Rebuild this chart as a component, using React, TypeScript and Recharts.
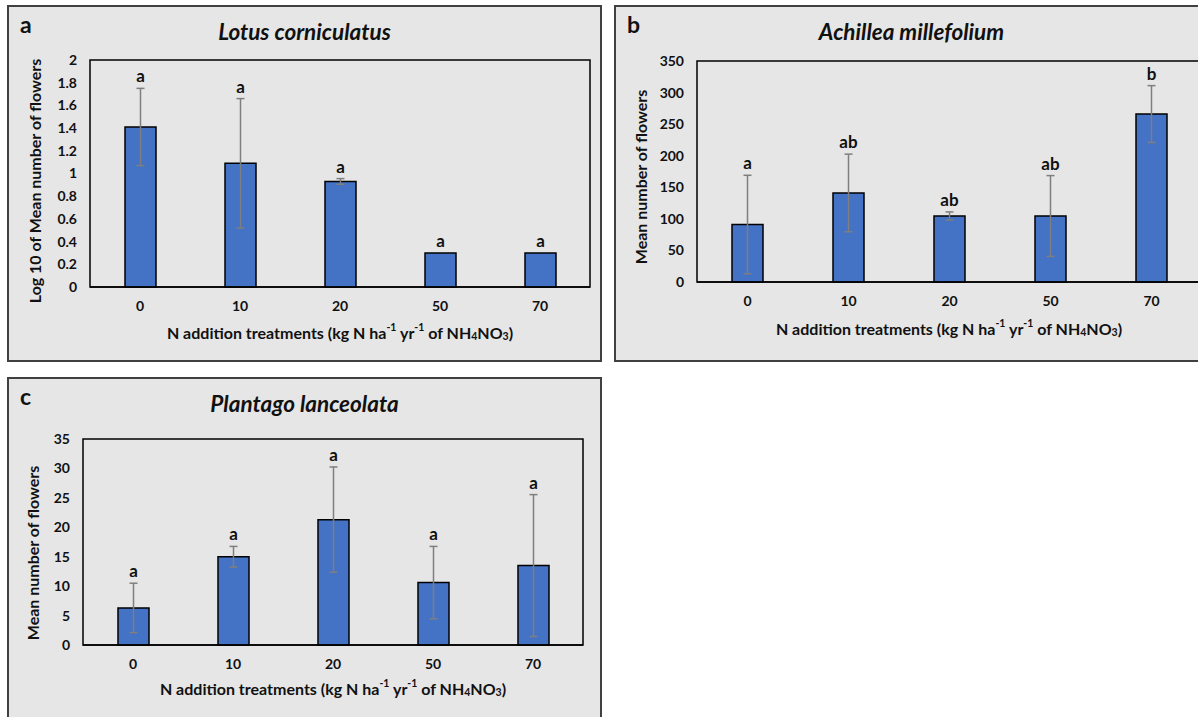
import { BarChart, Bar, XAxis, YAxis, ErrorBar, LabelList, ReferenceArea } from "recharts";

// ===== DATA =====
const doses = ["0", "10", "20", "50", "70"];

const lotusMeans = [1.41, 1.09, 0.93, 0.3, 0.3];
const lotusErrors = [0.34, 0.57, 0.025, null, null];
const lotusLetters = ["a", "a", "a", "a", "a"];
const lotusTicks = [0, 0.2, 0.4, 0.6, 0.8, 1, 1.2, 1.4, 1.6, 1.8, 2];

const achilleaMeans = [91, 141, 104.5, 104.5, 266];
const achilleaErrors = [78, 61.5, 6.5, 64, 45];
const achilleaLetters = ["a", "ab", "ab", "ab", "b"];
const achilleaTicks = [0, 50, 100, 150, 200, 250, 300, 350];

const plantagoMeans = [6.3, 15, 21.3, 10.6, 13.5];
const plantagoErrors = [4.2, 1.75, 8.95, 6.15, 12.05];
const plantagoLetters = ["a", "a", "a", "a", "a"];
const plantagoTicks = [0, 5, 10, 15, 20, 25, 30, 35];

// ===== STYLE =====
const FONT = "Lato";
const INK = "#111";
const BAR_BLUE = "#4472C4";
const ERR_GREY = "#7f7f7f";

type Box = { x: number; y: number; w: number; h: number };

interface PanelProps {
  box: Box;
  tag: string;
  species: string;
  yTitle: string;
  yTitlePos: [number, number];
  xTitlePos: [number, number];
  means: number[];
  errors: (number | null)[];
  letters: string[];
  ticks: number[];
  margin: { top: number; right: number; bottom: number; left: number };
}

// letter above each error bar (or above the bar when there is none)
const letterLabel = (means: number[], errors: (number | null)[]) => (props: any) => {
  const vb = props.viewBox ?? props;
  const { x, y, width, height } = vb;
  const i = props.index;
  const perUnit = height / means[i];
  const top = y - (errors[i] ?? 0) * perUnit;
  return (
    <text
      x={x + width / 2}
      y={top - 6}
      textAnchor="middle"
      fontFamily={FONT}
      fontWeight={700}
      fontSize={17}
      fill={INK}
    >
      {props.value}
    </text>
  );
};

// x axis title with superscripts and subscripts
const XTitle = ({ x, y }: { x: number; y: number }) => (
  <text
    x={x}
    y={y}
    textAnchor="middle"
    dominantBaseline="central"
    fontFamily={FONT}
    fontWeight={700}
    fontSize={16}
    fill={INK}
  >
    N addition treatments (kg N ha
    <tspan dy={-5} fontSize={10.5}>-1</tspan>
    <tspan dy={5}> yr</tspan>
    <tspan dy={-5} fontSize={10.5}>-1</tspan>
    <tspan dy={5}> of NH</tspan>
    <tspan dy={4} fontSize={10.5}>4</tspan>
    <tspan dy={-4}>NO</tspan>
    <tspan dy={4} fontSize={10.5}>3</tspan>
    <tspan dy={-4}>)</tspan>
  </text>
);

function Panel({
  box,
  tag,
  species,
  yTitle,
  yTitlePos,
  xTitlePos,
  means,
  errors,
  letters,
  ticks,
  margin,
}: PanelProps) {
  const data = doses.map((n, i) => ({
    n,
    mean: means[i],
    err: errors[i] ?? undefined,
    letter: letters[i],
  }));
  const yMax = ticks[ticks.length - 1];

  return (
    <>
      {/* panel background */}
      <div
        style={{
          position: "absolute",
          left: box.x,
          top: box.y,
          width: box.w,
          height: box.h,
          boxSizing: "border-box",
          border: "2px solid #404040",
          background: "#e6e6e6",
        }}
      />

      <div style={{ position: "absolute", left: box.x, top: box.y }}>
        <BarChart width={box.w} height={box.h} data={data} margin={margin}>
          <XAxis
            dataKey="n"
            axisLine={{ stroke: "#000", strokeWidth: 1.5 }}
            tickLine={false}
            tickSize={0}
            tickMargin={14}
            height={60}
            tick={{ fontSize: 14, fontWeight: 700, fill: INK, fontFamily: FONT }}
          />
          <YAxis
            domain={[0, yMax]}
            ticks={ticks}
            axisLine={false}
            tickLine={false}
            tickSize={0}
            tickMargin={13}
            width={60}
            tick={{ fontSize: 14, fontWeight: 700, fill: INK, fontFamily: FONT }}
          />
          <ReferenceArea y1={0} y2={yMax} fill="none" stroke="#000" strokeWidth={1.5} />
          <Bar
            dataKey="mean"
            fill={BAR_BLUE}
            stroke="#000"
            strokeWidth={1.5}
            barSize={31}
            isAnimationActive={false}
          >
            <ErrorBar
              dataKey="err"
              width={4}
              stroke={ERR_GREY}
              strokeWidth={1.5}
              direction="y"
              isAnimationActive={false}
            />
            <LabelList dataKey="letter" content={letterLabel(means, errors)} />
          </Bar>
        </BarChart>
      </div>

      {/* panel tag, species name and axis titles */}
      <svg
        width={box.w}
        height={box.h}
        style={{ position: "absolute", left: box.x, top: box.y, pointerEvents: "none" }}
      >
        <text x={13} y={28} fontFamily={FONT} fontWeight={700} fontSize={23} fill={INK}>
          {tag}
        </text>
        <text
          x={box.w / 2}
          y={35}
          textAnchor="middle"
          fontFamily={FONT}
          fontWeight={700}
          fontStyle="italic"
          fontSize={22.5}
          fill={INK}
        >
          {species}
        </text>
        <text
          x={yTitlePos[0]}
          y={yTitlePos[1]}
          transform={`rotate(-90 ${yTitlePos[0]} ${yTitlePos[1]})`}
          textAnchor="middle"
          dominantBaseline="central"
          fontFamily={FONT}
          fontWeight={700}
          fontSize={16}
          fill={INK}
        >
          {yTitle}
        </text>
        <XTitle x={xTitlePos[0]} y={xTitlePos[1]} />
      </svg>
    </>
  );
}

export default function App() {
  return (
    <div
      style={{
        position: "fixed",
        left: 0,
        top: 0,
        width: 1198,
        height: 717,
        overflow: "hidden",
        background: "#fff",
        fontFamily: FONT,
      }}
    >
      <Panel
        box={{ x: 7, y: 5, w: 595, h: 357 }}
        tag="a"
        species="Lotus corniculatus"
        yTitle="Log 10 of Mean number of flowers"
        yTitlePos={[27, 176]}
        xTitlePos={[333, 327]}
        means={lotusMeans}
        errors={lotusErrors}
        letters={lotusLetters}
        ticks={lotusTicks}
        margin={{ top: 55, right: 12, bottom: 15, left: 23 }}
      />
      <Panel
        box={{ x: 614, y: 5, w: 595, h: 357 }}
        tag="b"
        species="Achillea millefolium"
        yTitle="Mean number of flowers"
        yTitlePos={[26, 172]}
        xTitlePos={[335, 323]}
        means={achilleaMeans}
        errors={achilleaErrors}
        letters={achilleaLetters}
        ticks={achilleaTicks}
        margin={{ top: 56, right: 7, bottom: 20, left: 23 }}
      />
      <Panel
        box={{ x: 7, y: 377, w: 595, h: 357 }}
        tag="c"
        species="Plantago lanceolata"
        yTitle="Mean number of flowers"
        yTitlePos={[25, 176]}
        xTitlePos={[326, 311]}
        means={plantagoMeans}
        errors={plantagoErrors}
        letters={plantagoLetters}
        ticks={plantagoTicks}
        margin={{ top: 62, right: 19, bottom: 29, left: 16 }}
      />
    </div>
  );
}
